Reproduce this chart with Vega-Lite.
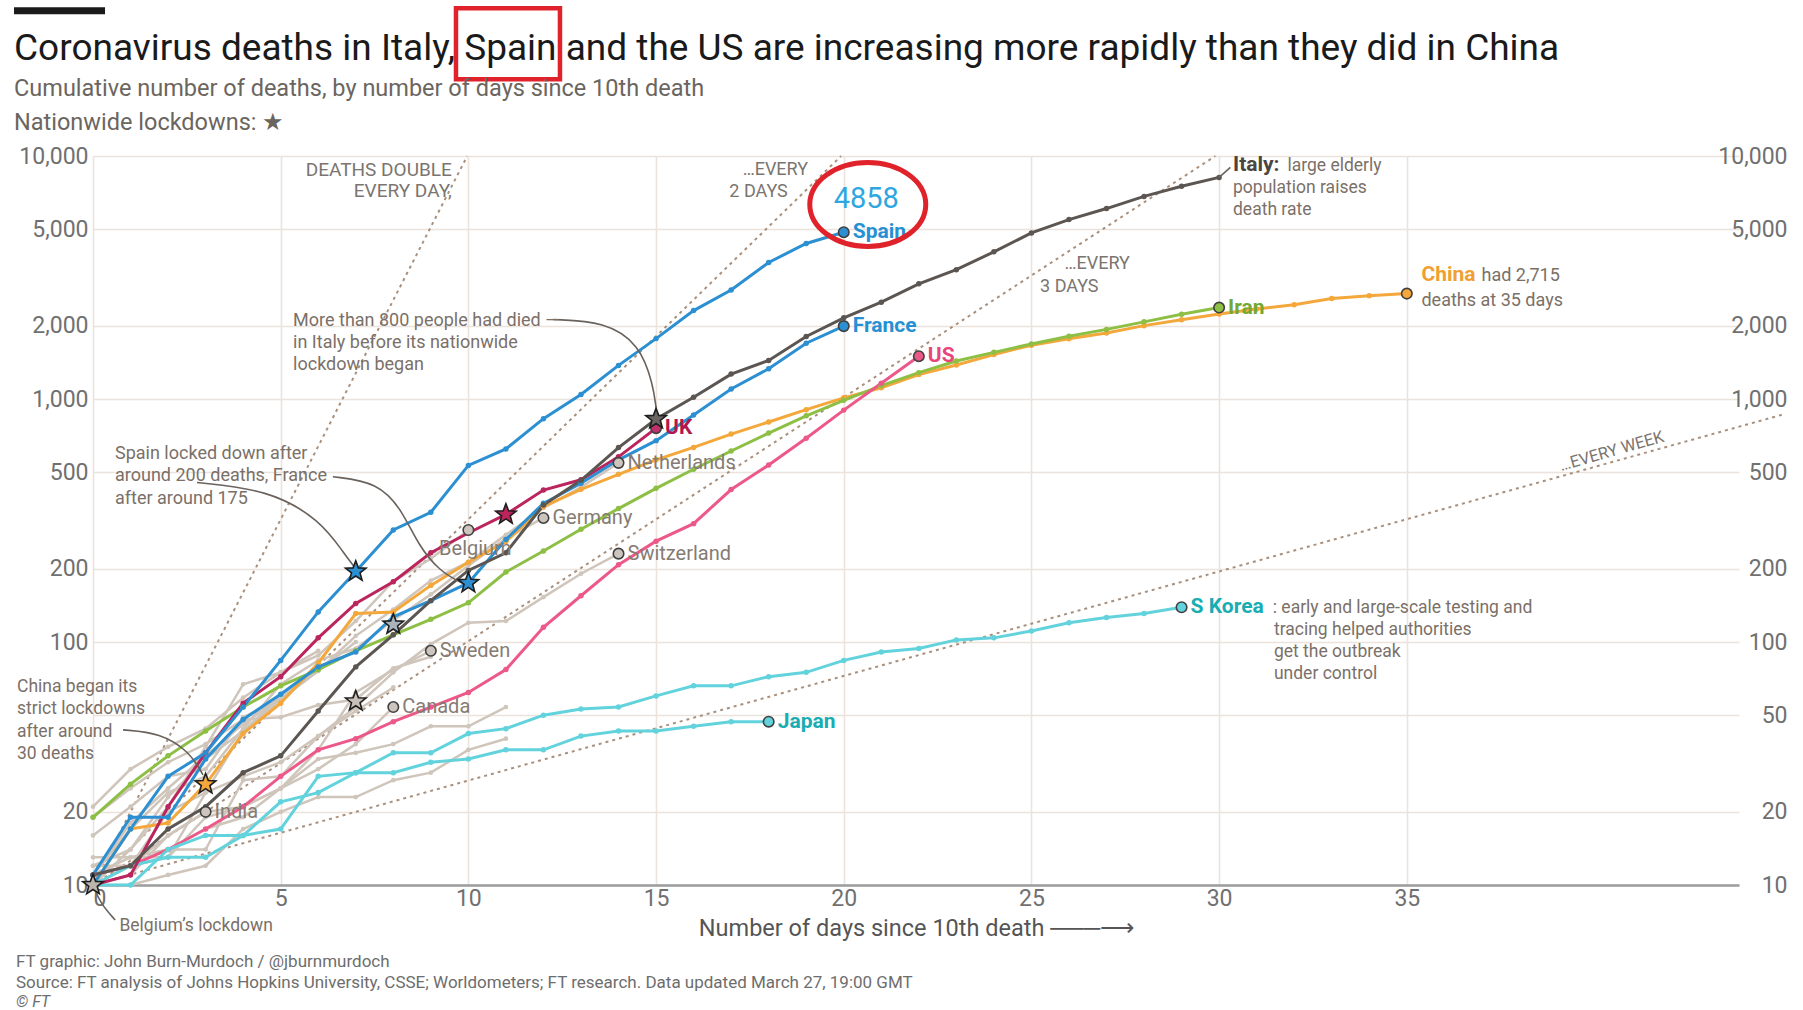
{
"$schema":"https://vega.github.io/schema/vega-lite/v6.json",
"width":1646,"height":729,
"autosize":{"type":"none"},
"padding":{"left":93,"top":156,"right":64,"bottom":125},
"background":"#ffffff",
"config":{"font":"Roboto","view":{"stroke":null}},
"title":{"text":"Coronavirus deaths in Italy, Spain and the US are increasing more rapidly than they did in China","subtitle":["Cumulative number of deaths, by number of days since 10th death","Nationwide lockdowns: ★"],"anchor":"start","frame":"bounds","font":"Roboto","fontSize":37,"fontWeight":"normal","color":"#1a1a1a","subtitleFont":"Roboto","subtitleFontSize":23.5,"subtitleColor":"#6b6560","subtitleLineHeight":34,"subtitlePadding":9,"offset":-129},
"datasets":{
"cases":[
{"country":"China","day":0,"deaths":10},{"country":"China","day":1,"deaths":17},{"country":"China","day":2,"deaths":18},{"country":"China","day":3,"deaths":26},{"country":"China","day":4,"deaths":42},{"country":"China","day":5,"deaths":56},{"country":"China","day":6,"deaths":82},{"country":"China","day":7,"deaths":131},{"country":"China","day":8,"deaths":133},{"country":"China","day":9,"deaths":171},{"country":"China","day":10,"deaths":213},{"country":"China","day":11,"deaths":259},{"country":"China","day":12,"deaths":361},{"country":"China","day":13,"deaths":425},{"country":"China","day":14,"deaths":490},{"country":"China","day":15,"deaths":562},{"country":"China","day":16,"deaths":632},{"country":"China","day":17,"deaths":717},{"country":"China","day":18,"deaths":804},{"country":"China","day":19,"deaths":904},{"country":"China","day":20,"deaths":1011},{"country":"China","day":21,"deaths":1113},{"country":"China","day":22,"deaths":1260},{"country":"China","day":23,"deaths":1380},{"country":"China","day":24,"deaths":1523},{"country":"China","day":25,"deaths":1665},{"country":"China","day":26,"deaths":1770},{"country":"China","day":27,"deaths":1868},{"country":"China","day":28,"deaths":2004},{"country":"China","day":29,"deaths":2118},{"country":"China","day":30,"deaths":2236},{"country":"China","day":31,"deaths":2345},{"country":"China","day":32,"deaths":2442},{"country":"China","day":33,"deaths":2592},{"country":"China","day":34,"deaths":2663},{"country":"China","day":35,"deaths":2715},
{"country":"Iran","day":0,"deaths":19},{"country":"Iran","day":1,"deaths":26},{"country":"Iran","day":2,"deaths":34},{"country":"Iran","day":3,"deaths":43},{"country":"Iran","day":4,"deaths":54},{"country":"Iran","day":5,"deaths":66},{"country":"Iran","day":6,"deaths":77},{"country":"Iran","day":7,"deaths":92},{"country":"Iran","day":8,"deaths":107},{"country":"Iran","day":9,"deaths":124},{"country":"Iran","day":10,"deaths":145},{"country":"Iran","day":11,"deaths":194},{"country":"Iran","day":12,"deaths":237},{"country":"Iran","day":13,"deaths":291},{"country":"Iran","day":14,"deaths":354},{"country":"Iran","day":15,"deaths":429},{"country":"Iran","day":16,"deaths":514},{"country":"Iran","day":17,"deaths":611},{"country":"Iran","day":18,"deaths":724},{"country":"Iran","day":19,"deaths":853},{"country":"Iran","day":20,"deaths":988},{"country":"Iran","day":21,"deaths":1135},{"country":"Iran","day":22,"deaths":1284},{"country":"Iran","day":23,"deaths":1433},{"country":"Iran","day":24,"deaths":1556},{"country":"Iran","day":25,"deaths":1685},{"country":"Iran","day":26,"deaths":1812},{"country":"Iran","day":27,"deaths":1934},{"country":"Iran","day":28,"deaths":2077},{"country":"Iran","day":29,"deaths":2234},{"country":"Iran","day":30,"deaths":2378},
{"country":"US","day":0,"deaths":11},{"country":"US","day":1,"deaths":12},{"country":"US","day":2,"deaths":14},{"country":"US","day":3,"deaths":17},{"country":"US","day":4,"deaths":21},{"country":"US","day":5,"deaths":28},{"country":"US","day":6,"deaths":36},{"country":"US","day":7,"deaths":40},{"country":"US","day":8,"deaths":47},{"country":"US","day":9,"deaths":54},{"country":"US","day":10,"deaths":62},{"country":"US","day":11,"deaths":77},{"country":"US","day":12,"deaths":115},{"country":"US","day":13,"deaths":155},{"country":"US","day":14,"deaths":208},{"country":"US","day":15,"deaths":260},{"country":"US","day":16,"deaths":307},{"country":"US","day":17,"deaths":424},{"country":"US","day":18,"deaths":535},{"country":"US","day":19,"deaths":690},{"country":"US","day":20,"deaths":900},{"country":"US","day":21,"deaths":1160},{"country":"US","day":22,"deaths":1500},
{"country":"S Korea","day":0,"deaths":10},{"country":"S Korea","day":1,"deaths":12},{"country":"S Korea","day":2,"deaths":13},{"country":"S Korea","day":3,"deaths":13},{"country":"S Korea","day":4,"deaths":16},{"country":"S Korea","day":5,"deaths":17},{"country":"S Korea","day":6,"deaths":28},{"country":"S Korea","day":7,"deaths":29},{"country":"S Korea","day":8,"deaths":35},{"country":"S Korea","day":9,"deaths":35},{"country":"S Korea","day":10,"deaths":42},{"country":"S Korea","day":11,"deaths":44},{"country":"S Korea","day":12,"deaths":50},{"country":"S Korea","day":13,"deaths":53},{"country":"S Korea","day":14,"deaths":54},{"country":"S Korea","day":15,"deaths":60},{"country":"S Korea","day":16,"deaths":66},{"country":"S Korea","day":17,"deaths":66},{"country":"S Korea","day":18,"deaths":72},{"country":"S Korea","day":19,"deaths":75},{"country":"S Korea","day":20,"deaths":84},{"country":"S Korea","day":21,"deaths":91},{"country":"S Korea","day":22,"deaths":94},{"country":"S Korea","day":23,"deaths":102},{"country":"S Korea","day":24,"deaths":104},{"country":"S Korea","day":25,"deaths":111},{"country":"S Korea","day":26,"deaths":120},{"country":"S Korea","day":27,"deaths":126},{"country":"S Korea","day":28,"deaths":131},{"country":"S Korea","day":29,"deaths":139},
{"country":"Japan","day":0,"deaths":10},{"country":"Japan","day":1,"deaths":10},{"country":"Japan","day":2,"deaths":14},{"country":"Japan","day":3,"deaths":16},{"country":"Japan","day":4,"deaths":16},{"country":"Japan","day":5,"deaths":22},{"country":"Japan","day":6,"deaths":24},{"country":"Japan","day":7,"deaths":29},{"country":"Japan","day":8,"deaths":29},{"country":"Japan","day":9,"deaths":32},{"country":"Japan","day":10,"deaths":33},{"country":"Japan","day":11,"deaths":36},{"country":"Japan","day":12,"deaths":36},{"country":"Japan","day":13,"deaths":41},{"country":"Japan","day":14,"deaths":43},{"country":"Japan","day":15,"deaths":43},{"country":"Japan","day":16,"deaths":45},{"country":"Japan","day":17,"deaths":47},{"country":"Japan","day":18,"deaths":47},
{"country":"UK","day":0,"deaths":10},{"country":"UK","day":1,"deaths":11},{"country":"UK","day":2,"deaths":21},{"country":"UK","day":3,"deaths":35},{"country":"UK","day":4,"deaths":56},{"country":"UK","day":5,"deaths":72},{"country":"UK","day":6,"deaths":104},{"country":"UK","day":7,"deaths":144},{"country":"UK","day":8,"deaths":177},{"country":"UK","day":9,"deaths":233},{"country":"UK","day":10,"deaths":281},{"country":"UK","day":11,"deaths":335},{"country":"UK","day":12,"deaths":422},{"country":"UK","day":13,"deaths":465},{"country":"UK","day":14,"deaths":578},{"country":"UK","day":15,"deaths":759},
{"country":"France","day":0,"deaths":11},{"country":"France","day":1,"deaths":19},{"country":"France","day":2,"deaths":19},{"country":"France","day":3,"deaths":33},{"country":"France","day":4,"deaths":48},{"country":"France","day":5,"deaths":61},{"country":"France","day":6,"deaths":79},{"country":"France","day":7,"deaths":91},{"country":"France","day":8,"deaths":127},{"country":"France","day":9,"deaths":148},{"country":"France","day":10,"deaths":175},{"country":"France","day":11,"deaths":264},{"country":"France","day":12,"deaths":372},{"country":"France","day":13,"deaths":450},{"country":"France","day":14,"deaths":562},{"country":"France","day":15,"deaths":674},{"country":"France","day":16,"deaths":860},{"country":"France","day":17,"deaths":1100},{"country":"France","day":18,"deaths":1331},{"country":"France","day":19,"deaths":1696},{"country":"France","day":20,"deaths":1995},
{"country":"Spain","day":0,"deaths":10},{"country":"Spain","day":1,"deaths":17},{"country":"Spain","day":2,"deaths":28},{"country":"Spain","day":3,"deaths":35},{"country":"Spain","day":4,"deaths":54},{"country":"Spain","day":5,"deaths":84},{"country":"Spain","day":6,"deaths":133},{"country":"Spain","day":7,"deaths":195},{"country":"Spain","day":8,"deaths":289},{"country":"Spain","day":9,"deaths":342},{"country":"Spain","day":10,"deaths":533},{"country":"Spain","day":11,"deaths":623},{"country":"Spain","day":12,"deaths":830},{"country":"Spain","day":13,"deaths":1043},{"country":"Spain","day":14,"deaths":1375},{"country":"Spain","day":15,"deaths":1772},{"country":"Spain","day":16,"deaths":2311},{"country":"Spain","day":17,"deaths":2808},{"country":"Spain","day":18,"deaths":3647},{"country":"Spain","day":19,"deaths":4365},{"country":"Spain","day":20,"deaths":4858},
{"country":"Italy","day":0,"deaths":11},{"country":"Italy","day":1,"deaths":12},{"country":"Italy","day":2,"deaths":17},{"country":"Italy","day":3,"deaths":21},{"country":"Italy","day":4,"deaths":29},{"country":"Italy","day":5,"deaths":34},{"country":"Italy","day":6,"deaths":52},{"country":"Italy","day":7,"deaths":79},{"country":"Italy","day":8,"deaths":107},{"country":"Italy","day":9,"deaths":148},{"country":"Italy","day":10,"deaths":197},{"country":"Italy","day":11,"deaths":233},{"country":"Italy","day":12,"deaths":366},{"country":"Italy","day":13,"deaths":463},{"country":"Italy","day":14,"deaths":631},{"country":"Italy","day":15,"deaths":827},{"country":"Italy","day":16,"deaths":1016},{"country":"Italy","day":17,"deaths":1266},{"country":"Italy","day":18,"deaths":1441},{"country":"Italy","day":19,"deaths":1809},{"country":"Italy","day":20,"deaths":2158},{"country":"Italy","day":21,"deaths":2503},{"country":"Italy","day":22,"deaths":2978},{"country":"Italy","day":23,"deaths":3405},{"country":"Italy","day":24,"deaths":4032},{"country":"Italy","day":25,"deaths":4825},{"country":"Italy","day":26,"deaths":5476},{"country":"Italy","day":27,"deaths":6077},{"country":"Italy","day":28,"deaths":6820},{"country":"Italy","day":29,"deaths":7503},{"country":"Italy","day":30,"deaths":8165},
{"country":"Germany","day":0,"deaths":11},{"country":"Germany","day":1,"deaths":17},{"country":"Germany","day":2,"deaths":24},{"country":"Germany","day":3,"deaths":28},{"country":"Germany","day":4,"deaths":44},{"country":"Germany","day":5,"deaths":67},{"country":"Germany","day":6,"deaths":84},{"country":"Germany","day":7,"deaths":94},{"country":"Germany","day":8,"deaths":123},{"country":"Germany","day":9,"deaths":157},{"country":"Germany","day":10,"deaths":206},{"country":"Germany","day":11,"deaths":267},{"country":"Germany","day":12,"deaths":324},
{"country":"Netherlands","day":0,"deaths":10},{"country":"Netherlands","day":1,"deaths":12},{"country":"Netherlands","day":2,"deaths":20},{"country":"Netherlands","day":3,"deaths":24},{"country":"Netherlands","day":4,"deaths":43},{"country":"Netherlands","day":5,"deaths":58},{"country":"Netherlands","day":6,"deaths":76},{"country":"Netherlands","day":7,"deaths":106},{"country":"Netherlands","day":8,"deaths":136},{"country":"Netherlands","day":9,"deaths":179},{"country":"Netherlands","day":10,"deaths":213},{"country":"Netherlands","day":11,"deaths":276},{"country":"Netherlands","day":12,"deaths":356},{"country":"Netherlands","day":13,"deaths":434},{"country":"Netherlands","day":14,"deaths":546},
{"country":"Belgium","day":0,"deaths":10},{"country":"Belgium","day":1,"deaths":14},{"country":"Belgium","day":2,"deaths":21},{"country":"Belgium","day":3,"deaths":37},{"country":"Belgium","day":4,"deaths":67},{"country":"Belgium","day":5,"deaths":75},{"country":"Belgium","day":6,"deaths":88},{"country":"Belgium","day":7,"deaths":122},{"country":"Belgium","day":8,"deaths":178},{"country":"Belgium","day":9,"deaths":220},{"country":"Belgium","day":10,"deaths":289},
{"country":"Switzerland","day":0,"deaths":11},{"country":"Switzerland","day":1,"deaths":13},{"country":"Switzerland","day":2,"deaths":14},{"country":"Switzerland","day":3,"deaths":14},{"country":"Switzerland","day":4,"deaths":27},{"country":"Switzerland","day":5,"deaths":28},{"country":"Switzerland","day":6,"deaths":41},{"country":"Switzerland","day":7,"deaths":54},{"country":"Switzerland","day":8,"deaths":75},{"country":"Switzerland","day":9,"deaths":98},{"country":"Switzerland","day":10,"deaths":120},{"country":"Switzerland","day":11,"deaths":122},{"country":"Switzerland","day":12,"deaths":153},{"country":"Switzerland","day":13,"deaths":191},{"country":"Switzerland","day":14,"deaths":231},
{"country":"Sweden","day":0,"deaths":10},{"country":"Sweden","day":1,"deaths":11},{"country":"Sweden","day":2,"deaths":16},{"country":"Sweden","day":3,"deaths":20},{"country":"Sweden","day":4,"deaths":21},{"country":"Sweden","day":5,"deaths":25},{"country":"Sweden","day":6,"deaths":36},{"country":"Sweden","day":7,"deaths":62},{"country":"Sweden","day":8,"deaths":77},{"country":"Sweden","day":9,"deaths":92},
{"country":"Canada","day":0,"deaths":10},{"country":"Canada","day":1,"deaths":12},{"country":"Canada","day":2,"deaths":13},{"country":"Canada","day":3,"deaths":19},{"country":"Canada","day":4,"deaths":21},{"country":"Canada","day":5,"deaths":25},{"country":"Canada","day":6,"deaths":30},{"country":"Canada","day":7,"deaths":38},{"country":"Canada","day":8,"deaths":54},
{"country":"India","day":0,"deaths":10},{"country":"India","day":1,"deaths":12},{"country":"India","day":2,"deaths":16},{"country":"India","day":3,"deaths":20},
{"country":"Brazil","day":0,"deaths":11},{"country":"Brazil","day":1,"deaths":18},{"country":"Brazil","day":2,"deaths":25},{"country":"Brazil","day":3,"deaths":34},{"country":"Brazil","day":4,"deaths":46},{"country":"Brazil","day":5,"deaths":59},{"country":"Brazil","day":6,"deaths":77},{"country":"Brazil","day":7,"deaths":92},
{"country":"Portugal","day":0,"deaths":12},{"country":"Portugal","day":1,"deaths":14},{"country":"Portugal","day":2,"deaths":23},{"country":"Portugal","day":3,"deaths":33},{"country":"Portugal","day":4,"deaths":43},{"country":"Portugal","day":5,"deaths":60},{"country":"Portugal","day":6,"deaths":76},{"country":"Portugal","day":7,"deaths":100},
{"country":"Turkey","day":0,"deaths":21},{"country":"Turkey","day":1,"deaths":30},{"country":"Turkey","day":2,"deaths":37},{"country":"Turkey","day":3,"deaths":44},{"country":"Turkey","day":4,"deaths":59},{"country":"Turkey","day":5,"deaths":75},{"country":"Turkey","day":6,"deaths":92},
{"country":"Austria","day":0,"deaths":16},{"country":"Austria","day":1,"deaths":21},{"country":"Austria","day":2,"deaths":28},{"country":"Austria","day":3,"deaths":30},{"country":"Austria","day":4,"deaths":49},{"country":"Austria","day":5,"deaths":58},
{"country":"Indonesia","day":0,"deaths":19},{"country":"Indonesia","day":1,"deaths":25},{"country":"Indonesia","day":2,"deaths":32},{"country":"Indonesia","day":3,"deaths":38},{"country":"Indonesia","day":4,"deaths":48},{"country":"Indonesia","day":5,"deaths":49},{"country":"Indonesia","day":6,"deaths":55},{"country":"Indonesia","day":7,"deaths":58},{"country":"Indonesia","day":8,"deaths":78},{"country":"Indonesia","day":9,"deaths":87},
{"country":"Philippines","day":0,"deaths":12},{"country":"Philippines","day":1,"deaths":12},{"country":"Philippines","day":2,"deaths":14},{"country":"Philippines","day":3,"deaths":17},{"country":"Philippines","day":4,"deaths":19},{"country":"Philippines","day":5,"deaths":25},{"country":"Philippines","day":6,"deaths":33},{"country":"Philippines","day":7,"deaths":35},{"country":"Philippines","day":8,"deaths":38},{"country":"Philippines","day":9,"deaths":45},{"country":"Philippines","day":10,"deaths":45},{"country":"Philippines","day":11,"deaths":54},
{"country":"Iraq","day":0,"deaths":10},{"country":"Iraq","day":1,"deaths":10},{"country":"Iraq","day":2,"deaths":11},{"country":"Iraq","day":3,"deaths":12},{"country":"Iraq","day":4,"deaths":17},{"country":"Iraq","day":5,"deaths":20},{"country":"Iraq","day":6,"deaths":23},{"country":"Iraq","day":7,"deaths":23},{"country":"Iraq","day":8,"deaths":27},{"country":"Iraq","day":9,"deaths":29},{"country":"Iraq","day":10,"deaths":36},{"country":"Iraq","day":11,"deaths":40},
{"country":"Denmark","day":0,"deaths":13},{"country":"Denmark","day":1,"deaths":13},{"country":"Denmark","day":2,"deaths":13},{"country":"Denmark","day":3,"deaths":24},{"country":"Denmark","day":4,"deaths":28},{"country":"Denmark","day":5,"deaths":32},{"country":"Denmark","day":6,"deaths":41},{"country":"Denmark","day":7,"deaths":52},{"country":"Denmark","day":8,"deaths":65}
],
"ref":[
{"rate":"every day","day":0,"deaths":10},{"rate":"every day","day":9.97,"deaths":10000},
{"rate":"every 2 days","day":0,"deaths":10},{"rate":"every 2 days","day":19.93,"deaths":10000},
{"rate":"every 3 days","day":0,"deaths":10},{"rate":"every 3 days","day":29.9,"deaths":10000},
{"rate":"every week","day":0,"deaths":10},{"rate":"every week","day":45,"deaths":862}
],
"stars":[
{"country":"Belgium","day":0,"deaths":10},{"country":"China","day":3,"deaths":26},{"country":"Spain","day":7,"deaths":195},{"country":"other A","day":7,"deaths":57},{"country":"other B","day":8,"deaths":118},{"country":"France","day":10,"deaths":175},{"country":"UK","day":11,"deaths":335},{"country":"Italy","day":15,"deaths":827}
],
"labs":[
{"country":"Spain","day":20,"deaths":4858},{"country":"France","day":20,"deaths":1995},{"country":"US","day":22,"deaths":1500},{"country":"UK","day":15,"deaths":759},{"country":"Iran","day":30,"deaths":2378},{"country":"Japan","day":18,"deaths":47},{"country":"S Korea","day":29,"deaths":139},
{"country":"Netherlands","day":14,"deaths":546},{"country":"Germany","day":12,"deaths":324},{"country":"Switzerland","day":14,"deaths":231},{"country":"Sweden","day":9,"deaths":92},{"country":"Canada","day":8,"deaths":54},{"country":"India","day":3,"deaths":20},{"country":"Belgium","day":10,"deaths":289}
],
"conn":[
{"id":"italy","ord":0,"day":12.25,"deaths":2123},{"id":"italy","ord":1,"day":13.64,"deaths":2083},{"id":"italy","ord":2,"day":14.57,"deaths":1675},{"id":"italy","ord":3,"day":14.92,"deaths":1146},{"id":"italy","ord":4,"day":15.0,"deaths":921},
{"id":"spain","ord":0,"day":2.77,"deaths":453},{"id":"spain","ord":1,"day":4.66,"deaths":424},{"id":"spain","ord":2,"day":6.05,"deaths":319},{"id":"spain","ord":3,"day":6.71,"deaths":229},{"id":"spain","ord":4,"day":6.98,"deaths":202},
{"id":"france","ord":0,"day":6.39,"deaths":479},{"id":"france","ord":1,"day":7.59,"deaths":454},{"id":"france","ord":2,"day":8.23,"deaths":350},{"id":"france","ord":3,"day":8.66,"deaths":251},{"id":"france","ord":4,"day":9.24,"deaths":195},{"id":"france","ord":5,"day":9.83,"deaths":175},
{"id":"china","ord":0,"day":0.8,"deaths":43.5},{"id":"china","ord":1,"day":1.79,"deaths":42.3},{"id":"china","ord":2,"day":2.58,"deaths":35.3},{"id":"china","ord":3,"day":2.93,"deaths":28.4},
{"id":"belgium","ord":0,"day":0,"deaths":10},{"id":"belgium","ord":1,"day":0.19,"deaths":8.43},{"id":"belgium","ord":2,"day":0.59,"deaths":7.18},
{"id":"italylead","ord":0,"day":30.0,"deaths":8165},{"id":"italylead","ord":1,"day":30.3,"deaths":8980}
]
},
"layer":[
{"data":{"name":"ref"},
 "mark":{"type":"line","strokeDash":[3,4],"strokeWidth":2,"color":"#a9907d"},
 "encoding":{
  "x":{"field":"day","type":"quantitative","scale":{"domain":[0,43.85],"nice":false,"zero":false},
   "axis":{"values":[0,5,10,15,20,25,30,35],"grid":true,"gridColor":"#ebe3dc","gridWidth":1.6,"domain":true,"domainColor":"#9c9c9c","domainWidth":2.5,"ticks":false,"labelFontSize":23,"labelColor":"#707070","labelPadding":2,"title":"Number of days since 10th death ───⟶","titleFontSize":23.5,"titleFontWeight":"normal","titleColor":"#555555","titlePadding":6}},
  "y":{"field":"deaths","type":"quantitative","scale":{"type":"log","domain":[10,10000],"nice":false},
   "axis":{"orient":"left","values":[10,20,50,100,200,500,1000,2000,5000,10000],"labelExpr":"datum.value == 50 ? '' : format(datum.value, ',')","grid":true,"gridColor":"#ebe3dc","gridWidth":1.6,"domain":false,"ticks":false,"labelFontSize":23,"labelColor":"#707070","labelPadding":5,"title":null}},
  "detail":{"field":"rate","type":"nominal"}}},
{"data":{"name":"cases"},
 "transform":[{"filter":{"field":"country","oneOf":["Germany","Netherlands","Belgium","Switzerland","Sweden","Canada","India","Brazil","Portugal","Turkey","Austria","Indonesia","Philippines","Iraq","Denmark"]}}],
 "mark":{"type":"line","strokeWidth":2.5,"color":"#cfc5bb","point":{"filled":true,"size":22,"color":"#cfc5bb"}},
 "encoding":{
  "x":{"field":"day","type":"quantitative"},
  "y":{"field":"deaths","type":"quantitative","axis":{"orient":"right","values":[10,20,50,100,200,500,1000,2000,5000,10000],"format":",","grid":false,"domain":false,"ticks":false,"labelFontSize":23,"labelColor":"#707070","labelAlign":"right","labelPadding":48,"title":null}},
  "detail":{"field":"country","type":"nominal"}}},
{"data":{"name":"cases"},
 "transform":[{"filter":{"field":"country","oneOf":["China","Iran","US","S Korea","Japan","UK","France","Spain","Italy"]}}],
 "mark":{"type":"line","strokeWidth":3,"point":{"filled":true,"size":30}},
 "encoding":{
  "x":{"field":"day","type":"quantitative"},
  "y":{"field":"deaths","type":"quantitative","axis":null},
  "color":{"field":"country","type":"nominal","legend":null,"scale":{"domain":["China","Iran","US","S Korea","Japan","UK","France","Spain","Italy"],"range":["#f4a73a","#8dbf45","#ec5989","#62d3dc","#62d3dc","#bb245c","#2b8fd2","#2b8fd2","#5c5652"]}}}},
{"data":{"name":"conn"},
 "mark":{"type":"line","interpolate":"basis","strokeWidth":1.6,"color":"#6a625c"},
 "encoding":{
  "x":{"field":"day","type":"quantitative"},
  "y":{"field":"deaths","type":"quantitative","axis":null},
  "detail":{"field":"id","type":"nominal"},"order":{"field":"ord","type":"quantitative"}}},
{"data":{"name":"cases"},
 "transform":[{"filter":{"field":"country","oneOf":["Spain","France","US","UK","Iran","China","S Korea","Japan","Netherlands","Germany","Belgium","Switzerland","Sweden","Canada","India"]}},{"joinaggregate":[{"op":"max","field":"day","as":"maxday"}],"groupby":["country"]},{"filter":"datum.day === datum.maxday"}],
 "mark":{"type":"point","shape":"circle","filled":true,"size":110,"stroke":"#404040","strokeWidth":1.6,"opacity":1},
 "encoding":{
  "x":{"field":"day","type":"quantitative"},
  "y":{"field":"deaths","type":"quantitative","axis":null},
  "fill":{"field":"country","type":"nominal","legend":null,"scale":{"domain":["Spain","France","US","UK","Iran","China","S Korea","Japan","Netherlands","Germany","Belgium","Switzerland","Sweden","Canada","India"],"range":["#2b8fd2","#2b8fd2","#ec5989","#c0306a","#8dbf45","#f4a73a","#62d3dc","#62d3dc","#cdc5bd","#cdc5bd","#cdc5bd","#cdc5bd","#cdc5bd","#cdc5bd","#cdc5bd"]}}}},
{"data":{"name":"stars"},
 "mark":{"type":"point","shape":"M0,-1L0.247,-0.34L0.951,-0.309L0.399,0.13L0.588,0.809L0,0.42L-0.588,0.809L-0.399,0.13L-0.951,-0.309L-0.247,-0.34Z","filled":true,"size":460,"stroke":"#1e1e1e","strokeWidth":1.6,"opacity":1},
 "encoding":{
  "x":{"field":"day","type":"quantitative"},
  "y":{"field":"deaths","type":"quantitative","axis":null},
  "fill":{"field":"country","type":"nominal","legend":null,"scale":{"domain":["Belgium","China","Spain","other A","other B","France","UK","Italy"],"range":["#bdb5ad","#f4a73a","#2b8fd2","#c8c0b8","#a9b4bd","#2b8fd2","#bb245c","#6a6460"]}}}},
{"data":{"name":"labs"},
 "transform":[{"filter":{"field":"country","oneOf":["Spain","France","US","UK","Iran","Japan","S Korea"]}}],
 "mark":{"type":"text","align":"left","baseline":"middle","dx":9,"fontSize":21,"fontWeight":"bold"},
 "encoding":{
  "x":{"field":"day","type":"quantitative"},
  "y":{"field":"deaths","type":"quantitative","axis":null},
  "text":{"field":"country","type":"nominal"},
  "color":{"field":"country","type":"nominal","legend":null,"scale":{"domain":["Spain","France","US","UK","Iran","Japan","S Korea"],"range":["#2590d3","#2590d3","#e8457c","#b3164d","#74a834","#17adb2","#17adb2"]}}}},
{"data":{"name":"labs"},
 "transform":[{"filter":{"field":"country","oneOf":["Netherlands","Germany","Switzerland","Sweden","Canada","India"]}}],
 "mark":{"type":"text","align":"left","baseline":"middle","dx":9,"fontSize":20,"color":"#857b73"},
 "encoding":{
  "x":{"field":"day","type":"quantitative"},
  "y":{"field":"deaths","type":"quantitative","axis":null},
  "text":{"field":"country","type":"nominal"}}},
{"data":{"name":"labs"},
 "transform":[{"filter":{"field":"country","equal":"Belgium"}}],
 "mark":{"type":"text","align":"center","baseline":"middle","dx":7,"dy":19,"fontSize":20,"color":"#857b73"},
 "encoding":{
  "x":{"field":"day","type":"quantitative"},
  "y":{"field":"deaths","type":"quantitative","axis":null},
  "text":{"field":"country","type":"nominal"}}},
{"data":{"values":[{}]},"mark":{"type":"text","text":"DEATHS DOUBLE\nEVERY DAY,","lineBreak":"\n","lineHeight":21,"align":"right","baseline":"alphabetic","fontSize":19,"color":"#7b7570"},
 "encoding":{"x":{"datum":9.56,"type":"quantitative"},"y":{"datum":8241,"type":"quantitative","axis":null}}},
{"data":{"values":[{}]},"mark":{"type":"text","text":"…EVERY","align":"right","baseline":"alphabetic","fontSize":18,"color":"#7b7570"},
 "encoding":{"x":{"datum":19.05,"type":"quantitative"},"y":{"datum":8318,"type":"quantitative","axis":null}}},
{"data":{"values":[{}]},"mark":{"type":"text","text":"2 DAYS","align":"right","baseline":"alphabetic","fontSize":18,"color":"#7b7570"},
 "encoding":{"x":{"datum":18.51,"type":"quantitative"},"y":{"datum":6752,"type":"quantitative","axis":null}}},
{"data":{"values":[{}]},"mark":{"type":"text","text":"…EVERY","align":"left","baseline":"alphabetic","fontSize":18,"color":"#7b7570"},
 "encoding":{"x":{"datum":25.88,"type":"quantitative"},"y":{"datum":3443,"type":"quantitative","axis":null}}},
{"data":{"values":[{}]},"mark":{"type":"text","text":"3 DAYS","align":"left","baseline":"alphabetic","fontSize":18,"color":"#7b7570"},
 "encoding":{"x":{"datum":25.23,"type":"quantitative"},"y":{"datum":2767,"type":"quantitative","axis":null}}},
{"data":{"values":[{}]},"mark":{"type":"text","text":"…EVERY WEEK","align":"center","baseline":"middle","angle":-16,"fontSize":16.5,"color":"#7b7570"},
 "encoding":{"x":{"datum":40.46,"type":"quantitative"},"y":{"datum":609,"type":"quantitative","axis":null}}},
{"data":{"values":[{}]},"mark":{"type":"text","text":"More than 800 people had died —\nin Italy before its nationwide\nlockdown began","lineBreak":"\n","lineHeight":22,"align":"left","baseline":"alphabetic","fontSize":18,"color":"#7b7068"},
 "encoding":{"x":{"datum":5.33,"type":"quantitative"},"y":{"datum":2004,"type":"quantitative","axis":null}}},
{"data":{"values":[{}]},"mark":{"type":"text","text":"Spain locked down after\naround 200 deaths, France\nafter around 175","lineBreak":"\n","lineHeight":22.5,"align":"left","baseline":"alphabetic","fontSize":18,"color":"#7b7068"},
 "encoding":{"x":{"datum":0.586,"type":"quantitative"},"y":{"datum":568,"type":"quantitative","axis":null}}},
{"data":{"values":[{}]},"mark":{"type":"text","text":"China began its\nstrict lockdowns\nafter around\n30 deaths","lineBreak":"\n","lineHeight":22.3,"align":"left","baseline":"alphabetic","fontSize":17.5,"color":"#7b7068"},
 "encoding":{"x":{"datum":-2.024,"type":"quantitative"},"y":{"datum":62.3,"type":"quantitative","axis":null}}},
{"data":{"values":[{}]},"mark":{"type":"text","text":"Belgium’s lockdown","align":"left","baseline":"alphabetic","fontSize":17.5,"color":"#7b7068"},
 "encoding":{"x":{"datum":0.703,"type":"quantitative"},"y":{"datum":6.465,"type":"quantitative","axis":null}}},
{"data":{"values":[{}]},"mark":{"type":"text","text":"Italy:","align":"left","baseline":"alphabetic","fontSize":21,"fontWeight":"bold","color":"#4b4541"},
 "encoding":{"x":{"datum":30.37,"type":"quantitative"},"y":{"datum":8643,"type":"quantitative","axis":null}}},
{"data":{"values":[{}]},"mark":{"type":"text","text":"large elderly","align":"left","baseline":"alphabetic","fontSize":17.5,"color":"#7b7068"},
 "encoding":{"x":{"datum":31.82,"type":"quantitative"},"y":{"datum":8643,"type":"quantitative","axis":null}}},
{"data":{"values":[{}]},"mark":{"type":"text","text":"population raises\ndeath rate","lineBreak":"\n","lineHeight":21.5,"align":"left","baseline":"alphabetic","fontSize":17.5,"color":"#7b7068"},
 "encoding":{"x":{"datum":30.37,"type":"quantitative"},"y":{"datum":7015,"type":"quantitative","axis":null}}},
{"data":{"values":[{}]},"mark":{"type":"text","text":"China","align":"left","baseline":"alphabetic","fontSize":21,"fontWeight":"bold","color":"#f0a030"},
 "encoding":{"x":{"datum":35.39,"type":"quantitative"},"y":{"datum":3073,"type":"quantitative","axis":null}}},
{"data":{"values":[{}]},"mark":{"type":"text","text":"had 2,715","align":"left","baseline":"alphabetic","fontSize":18,"color":"#7b7068"},
 "encoding":{"x":{"datum":36.99,"type":"quantitative"},"y":{"datum":3073,"type":"quantitative","axis":null}}},
{"data":{"values":[{}]},"mark":{"type":"text","text":"deaths at 35 days","align":"left","baseline":"alphabetic","fontSize":18,"color":"#7b7068"},
 "encoding":{"x":{"datum":35.39,"type":"quantitative"},"y":{"datum":2425,"type":"quantitative","axis":null}}},
{"data":{"values":[{}]},"mark":{"type":"text","text":": early and large-scale testing and","align":"left","baseline":"alphabetic","fontSize":17.5,"color":"#7b7068"},
 "encoding":{"x":{"datum":31.43,"type":"quantitative"},"y":{"datum":131.9,"type":"quantitative","axis":null}}},
{"data":{"values":[{}]},"mark":{"type":"text","text":"tracing helped authorities\nget the outbreak\nunder control","lineBreak":"\n","lineHeight":22.3,"align":"left","baseline":"alphabetic","fontSize":17.5,"color":"#7b7068"},
 "encoding":{"x":{"datum":31.46,"type":"quantitative"},"y":{"datum":107.1,"type":"quantitative","axis":null}}},
{"data":{"values":[{}]},"mark":{"type":"text","text":"4858","align":"center","baseline":"middle","fontSize":29,"color":"#2ea6df"},
 "encoding":{"x":{"datum":20.6,"type":"quantitative"},"y":{"datum":6628,"type":"quantitative","axis":null}}},
{"data":{"values":[{}]},"mark":{"type":"point","shape":"M-1,0A1,0.724,0,1,1,1,0A1,0.724,0,1,1,-1,0Z","filled":false,"size":13456,"stroke":"#e0232b","strokeWidth":5,"opacity":1},
 "encoding":{"x":{"datum":20.64,"type":"quantitative"},"y":{"datum":6321,"type":"quantitative","axis":null}}},
{"data":{"values":[{}]},"mark":{"type":"rect","fillOpacity":0,"stroke":"#e0232b","strokeWidth":4.5},
 "encoding":{"x":{"datum":9.67,"type":"quantitative"},"x2":{"datum":12.44},"y":{"datum":40540,"type":"quantitative","axis":null},"y2":{"datum":20690}}},
{"data":{"values":[{}]},"mark":{"type":"rect","fill":"#1a1a1a"},
 "encoding":{"x":{"datum":-2.104,"type":"quantitative"},"x2":{"datum":0.32},"y":{"datum":40930,"type":"quantitative","axis":null},"y2":{"datum":38290}}},
{"data":{"values":[{}]},"mark":{"type":"text","text":"FT graphic: John Burn-Murdoch / @jburnmurdoch\nSource: FT analysis of Johns Hopkins University, CSSE; Worldometers; FT research. Data updated March 27, 19:00 GMT","lineBreak":"\n","lineHeight":21.3,"align":"left","baseline":"alphabetic","fontSize":17,"color":"#6d6d6d"},
 "encoding":{"x":{"datum":-2.051,"type":"quantitative"},"y":{"datum":4.595,"type":"quantitative","axis":null}}},
{"data":{"values":[{}]},"mark":{"type":"text","text":"© FT","align":"left","baseline":"alphabetic","fontSize":16,"fontStyle":"italic","color":"#6d6d6d"},
 "encoding":{"x":{"datum":-2.051,"type":"quantitative"},"y":{"datum":3.145,"type":"quantitative","axis":null}}}
],
"resolve":{"axis":{"y":"independent"},"scale":{"color":"independent","fill":"independent"}}
}
